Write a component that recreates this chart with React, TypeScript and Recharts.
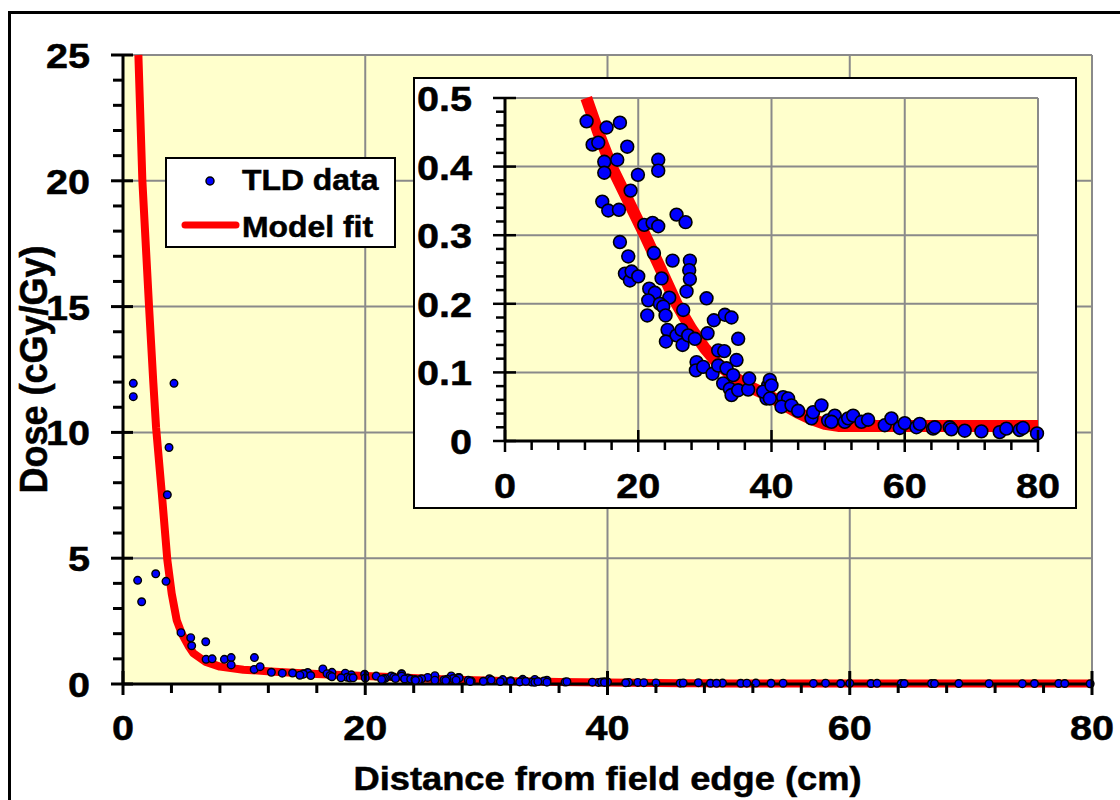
import { ComposedChart, Line, Scatter, XAxis, YAxis, CartesianGrid, Legend, Label } from "recharts";

// TLD measurements: distance from field edge (cm) and dose (cGy/Gy)
const tldDistance = [
  0.85, 0.85, 4.21, 3.8, 3.66, 1.21, 1.54, 2.7, 3.55, 4.79, 5.59, 5.67, 6.83, 6.86, 7.36, 8.37, 8.93, 8.93,
  10.85, 10.83, 11.32, 16.5,
  12.25, 13.15, 14.0, 15.25, 17.25, 14.9, 14.9, 16.85, 18.35, 19.95, 18.85, 23.0, 23.0, 14.6, 15.5, 17.1,
  20.9, 22.15, 23.0, 25.75, 27.1, 17.25, 18.5, 22.35, 25.15, 27.75, 27.65, 18.0, 18.75, 19.0, 20.0, 23.5,
  27.75, 21.65, 22.5, 21.5, 24.65, 27.25, 26.75, 30.25, 23.25, 23.75, 21.35, 24.1, 31.35, 33.0, 34.0, 24.4,
  24.15, 25.75, 26.5, 26.65, 27.5, 28.5, 30.4, 35.0, 28.75, 28.65, 29.75, 32.0, 32.9, 31.15, 32.0, 34.75,
  32.75, 33.75, 34.0, 33.25, 34.25, 35.0, 36.5, 36.65, 39.25, 39.5,
  38.75, 39.75, 40.0, 39.75, 41.75, 42.5, 41.5, 43.0, 44.0, 46.0, 46.25, 47.5, 48.5, 49.5, 49.0, 51.0,
  51.5, 52.25, 53.5, 54.5, 57.0, 58.0, 59.25, 60.0, 61.75, 62.25, 64.25, 64.5, 66.75, 67.0, 69.0, 71.5,
  74.25, 75.25, 77.25, 77.75, 79.85,
];
const tldDose = [
  11.95, 11.42, 11.95, 9.4, 7.52, 4.12, 3.27, 4.38, 4.08, 2.04, 1.84, 1.52, 1.68, 0.98, 1.0, 0.98, 1.05, 0.76,
  1.05, 0.58, 0.69, 0.6,
  0.466, 0.432, 0.435, 0.457, 0.464, 0.407, 0.391, 0.41, 0.429, 0.388, 0.365, 0.41, 0.394, 0.349, 0.336, 0.337,
  0.315, 0.318, 0.313, 0.33, 0.319, 0.29, 0.269, 0.274, 0.263, 0.263, 0.249, 0.244, 0.234, 0.247, 0.24, 0.237,
  0.236, 0.222, 0.216, 0.205, 0.209, 0.218, 0.191, 0.208, 0.2, 0.196, 0.183, 0.183, 0.176, 0.184, 0.18, 0.162,
  0.145, 0.154, 0.162, 0.14, 0.154, 0.149, 0.157, 0.149, 0.115, 0.103, 0.108, 0.132, 0.131, 0.098, 0.11, 0.118,
  0.084, 0.076, 0.067, 0.106, 0.096, 0.074, 0.075, 0.091, 0.062, 0.081,
  0.072, 0.089, 0.081, 0.062, 0.064, 0.062, 0.05, 0.052, 0.044, 0.033, 0.042, 0.052, 0.03, 0.037, 0.028, 0.028,
  0.033, 0.037, 0.028, 0.031, 0.023, 0.033, 0.019, 0.026, 0.02, 0.025, 0.018, 0.02, 0.02, 0.017, 0.015, 0.014,
  0.013, 0.018, 0.016, 0.019, 0.011,
];

// Model fit curve
const fitDistance = [
  1.27, 1.6, 2.15, 2.5, 2.73, 3.2, 3.66, 4.02, 4.43, 4.85, 5.45, 5.81, 6.78, 8.0, 9.94, 12.2, 14, 16, 18.5,
  21, 23.4, 25.75, 28, 30, 32, 34, 36, 38, 40, 42, 44, 46, 48, 50, 60, 70, 80,
];
const fitDose = [
  25, 20, 15, 12, 10.2, 7.6, 4.93, 3.6, 2.54, 2.0, 1.48, 1.22, 0.89, 0.69, 0.57, 0.5, 0.45, 0.4, 0.35,
  0.3, 0.25, 0.2, 0.163, 0.135, 0.112, 0.096, 0.083, 0.073, 0.064, 0.052, 0.041, 0.032, 0.025, 0.022, 0.022,
  0.022, 0.022,
];

const xTicks = [0, 4, 8, 12, 16, 20, 24, 28, 32, 36, 40, 44, 48, 52, 56, 60, 64, 68, 72, 76, 80];
const mainYTicks = [0, 1, 2, 3, 4, 5, 6, 7, 8, 9, 10, 11, 12, 13, 14, 15, 16, 17, 18, 19, 20, 21, 22, 23, 24, 25];
const insetYTicks = [
  0, 0.02, 0.04, 0.06, 0.08, 0.1, 0.12, 0.14, 0.16, 0.18, 0.2, 0.22, 0.24, 0.26, 0.28, 0.3, 0.32, 0.34, 0.36,
  0.38, 0.4, 0.42, 0.44, 0.46, 0.48, 0.5,
];
const gridX = [20, 40, 60, 80];
const mainGridY = [5, 10, 15, 20, 25];
const insetGridY = [0.1, 0.2, 0.3, 0.4, 0.5];

const tld = tldDistance.map((x, i) => ({ x, y: tldDose[i] }));
const fit = fitDistance.map((x, i) => ({ x, y: fitDose[i] }));
const insetTld = tld.filter((d) => d.y <= 0.5);
const insetFit = fit.filter((d) => d.y <= 0.5);

const FONT = "Arial, 'Liberation Sans', Helvetica, sans-serif";
const SX = 1.1; // reference text is slightly wide
const BLUE = "#0000FF";
const RED = "#FF0000";
const GRID = "#8A8A8A";
const PLOT_BG = "#FFFFCC";
const TICK_FONT = 36;

const StretchText = ({ x, y, size, anchor = "middle", rotate = false, children }: any) => (
  <text
    transform={`translate(${x},${y}) scale(${SX},1)${rotate ? " rotate(-90)" : ""}`}
    textAnchor={anchor}
    fontFamily={FONT}
    fontWeight="bold"
    fontSize={size}
    fill="#000"
    stroke="#000"
    strokeWidth={0.5}
  >
    {children}
  </text>
);

const fmt = (v: number) => (v === 0 ? "0" : String(v));

const MainXTick = ({ x, y, payload }: any) => {
  const v = payload.value as number;
  const major = v % 20 === 0;
  return (
    <g>
      <line x1={x} x2={x} y1={major ? y - 13 : y} y2={major ? y + 11 : y + 9} stroke="#000" strokeWidth={3} />
      {major && <StretchText x={x} y={y + 56} size={TICK_FONT}>{fmt(v)}</StretchText>}
    </g>
  );
};

const MainYTick = ({ x, y, payload }: any) => {
  const v = payload.value as number;
  const major = v % 5 === 0;
  return (
    <g>
      <line x1={major ? x - 12 : x - 10} x2={major ? x + 10 : x} y1={y} y2={y} stroke="#000" strokeWidth={3} />
      {major && <StretchText x={x - 33} y={y + 13} size={TICK_FONT} anchor="end">{fmt(v)}</StretchText>}
    </g>
  );
};

const InsetXTick = ({ x, y, payload }: any) => {
  const v = payload.value as number;
  const major = v % 20 === 0;
  return (
    <g>
      <line x1={x} x2={x} y1={major ? y - 11 : y} y2={major ? y + 11 : y + 9} stroke="#000" strokeWidth={2.5} />
      {major && <StretchText x={x} y={y + 57} size={TICK_FONT}>{fmt(v)}</StretchText>}
    </g>
  );
};

const InsetYTick = ({ x, y, payload }: any) => {
  const v = payload.value as number;
  const major = Math.abs(v * 10 - Math.round(v * 10)) < 1e-6;
  return (
    <g>
      <line x1={major ? x - 12 : x - 9} x2={major ? x + 11 : x} y1={y} y2={y} stroke="#000" strokeWidth={2.5} />
      {major && <StretchText x={x - 33} y={y + 13} size={TICK_FONT} anchor="end">{fmt(v)}</StretchText>}
    </g>
  );
};

const mainDot = (p: any) => <circle cx={p.cx} cy={p.cy} r={3.8} fill={BLUE} stroke="#000" strokeWidth={1.4} />;
const insetDot = (p: any) => <circle cx={p.cx} cy={p.cy} r={6.4} fill={BLUE} stroke="#000" strokeWidth={1.6} />;

const LegendBox = () => (
  <svg width={231} height={91} style={{ display: "block" }}>
    <rect x={1} y={1} width={229} height={89} fill="#fff" stroke="#000" strokeWidth={2} />
    <circle cx={45} cy={24} r={4} fill={BLUE} stroke="#000" strokeWidth={1.5} />
    <StretchText x={77} y={33} size={29} anchor="start">TLD data</StretchText>
    <line x1={20} x2={71} y1={68} y2={68} stroke={RED} strokeWidth={7} strokeLinecap="round" />
    <StretchText x={77} y={80} size={29} anchor="start">Model fit</StretchText>
  </svg>
);

export default function App() {
  return (
    <div style={{ position: "fixed", left: 0, top: 0, width: 1120, height: 800, overflow: "hidden", background: "#fff" }}>
      <div style={{ position: "absolute", left: 8, top: 11, width: 1200, height: 900, border: "3px solid #000" }} />
      <div style={{ position: "absolute", left: 0, top: 0 }}>
        <ComposedChart width={1120} height={800} margin={{ top: 55, right: 28, left: 0, bottom: 0 }}>
          <CartesianGrid
            fill={PLOT_BG}
            fillOpacity={1}
            stroke={GRID}
            strokeWidth={2}
            horizontalValues={mainGridY}
            verticalValues={gridX}
          />
          <XAxis
            type="number"
            dataKey="x"
            domain={[0, 80]}
            ticks={xTicks}
            interval={0}
            height={116}
            tickSize={0}
            tickMargin={0}
            tickLine={false}
            axisLine={{ stroke: "#000", strokeWidth: 3 }}
            tick={(p: any) => <MainXTick {...p} />}
          >
            <Label
              content={(p: any) => {
                const vb = p.viewBox || { x: 123, y: 684, width: 969 };
                return (
                  <StretchText x={vb.x + vb.width / 2} y={vb.y + 106} size={33}>
                    Distance from field edge (cm)
                  </StretchText>
                );
              }}
            />
          </XAxis>
          <YAxis
            type="number"
            dataKey="y"
            domain={[0, 25]}
            ticks={mainYTicks}
            interval={0}
            width={123}
            tickSize={0}
            tickMargin={0}
            tickLine={false}
            axisLine={{ stroke: "#000", strokeWidth: 3 }}
            tick={(p: any) => <MainYTick {...p} />}
          >
            <Label
              content={(p: any) => {
                const vb = p.viewBox || { x: 0, y: 55, height: 629 };
                return (
                  <StretchText x={vb.x + 47} y={vb.y + vb.height / 2} size={36} rotate>
                    Dose (cGy/Gy)
                  </StretchText>
                );
              }}
            />
          </YAxis>
          <Legend
            layout="vertical"
            align="center"
            verticalAlign="middle"
            wrapperStyle={{ left: 165, top: 157, width: 231, height: 91 }}
            content={() => <LegendBox />}
          />
          <Line
            data={fit}
            dataKey="y"
            type="linear"
            stroke={RED}
            strokeWidth={8}
            strokeLinejoin="round"
            dot={false}
            activeDot={false}
            isAnimationActive={false}
            legendType="line"
            name="Model fit"
          />
          <Scatter data={tld} name="TLD data" shape={mainDot} isAnimationActive={false} />
        </ComposedChart>
      </div>
      <div
        style={{
          position: "absolute",
          left: 413,
          top: 77,
          width: 664,
          height: 432,
          boxSizing: "border-box",
          border: "2px solid #000",
          background: "#fff",
        }}
      >
        <ComposedChart width={660} height={428} margin={{ top: 19, right: 37, left: 0, bottom: 0 }}>
          <CartesianGrid
            fill={PLOT_BG}
            fillOpacity={1}
            stroke={GRID}
            strokeWidth={2}
            horizontalValues={insetGridY}
            verticalValues={gridX}
          />
          <XAxis
            type="number"
            dataKey="x"
            domain={[0, 80]}
            ticks={xTicks}
            interval={0}
            height={66}
            tickSize={0}
            tickMargin={0}
            tickLine={false}
            axisLine={{ stroke: "#000", strokeWidth: 3 }}
            tick={(p: any) => <InsetXTick {...p} />}
          />
          <YAxis
            type="number"
            dataKey="y"
            domain={[0, 0.5]}
            ticks={insetYTicks}
            interval={0}
            width={90}
            tickSize={0}
            tickMargin={0}
            tickLine={false}
            axisLine={{ stroke: "#000", strokeWidth: 3 }}
            tick={(p: any) => <InsetYTick {...p} />}
          />
          <Line
            data={insetFit}
            dataKey="y"
            type="linear"
            stroke={RED}
            strokeWidth={12}
            strokeLinejoin="round"
            dot={false}
            activeDot={false}
            isAnimationActive={false}
          />
          <Scatter data={insetTld} shape={insetDot} isAnimationActive={false} />
        </ComposedChart>
      </div>
    </div>
  );
}
